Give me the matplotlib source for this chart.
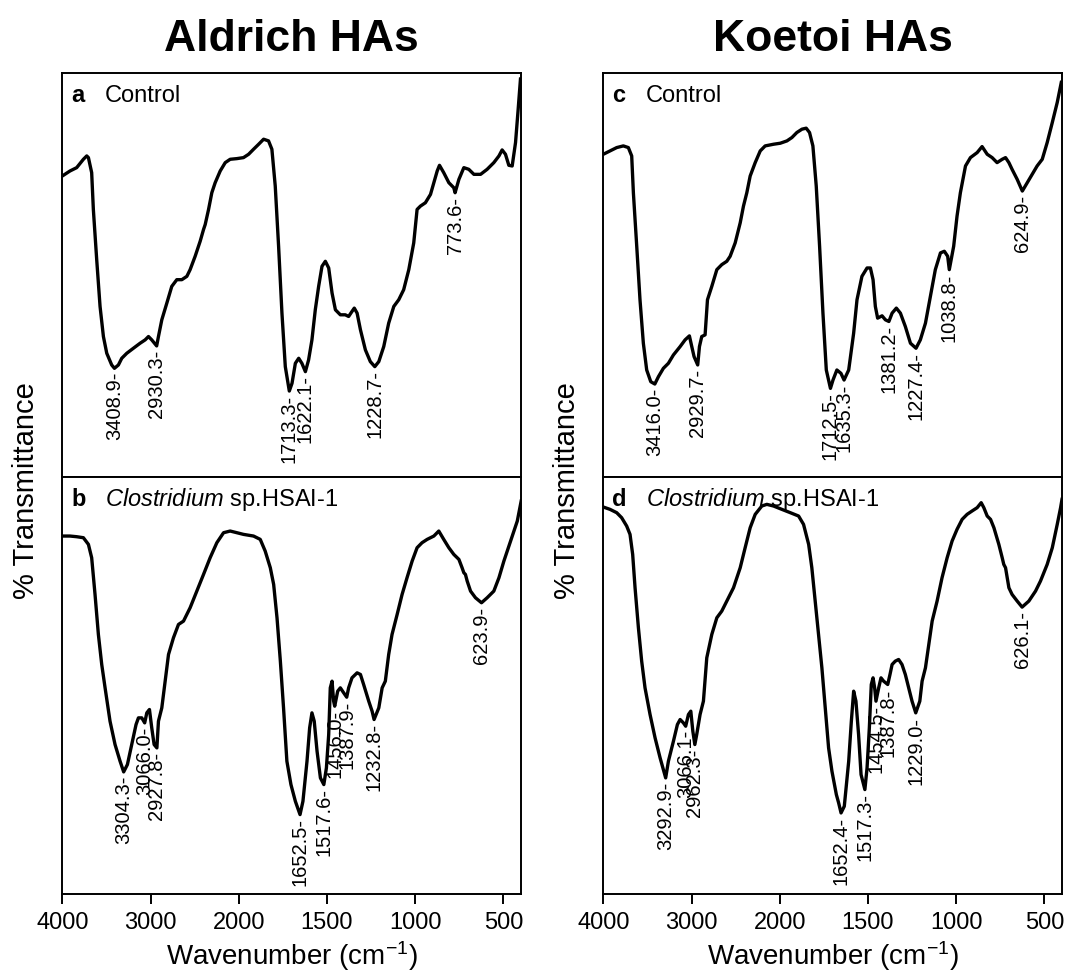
import numpy as np
import matplotlib
matplotlib.use("Agg")
import matplotlib.pyplot as plt


# ----------------------------------------
# 1. DATA
# ----------------------------------------
titles = ["Aldrich HAs", "Koetoi HAs"]
panel_letters = ["a", "b", "c", "d"]
panel_names = ["Control", r"$\mathit{Clostridium}$ sp.HSAI-1",
               "Control", r"$\mathit{Clostridium}$ sp.HSAI-1"]
xticks = [4000, 3000, 2000, 1500, 1000, 500]

# a: Aldrich control
wn_a = [4000, 3913, 3837, 3761, 3723, 3704, 3667, 3648, 3610, 3572, 3534, 3496, 3440,
        3408.9, 3364, 3326, 3269, 3194, 3118, 3061, 3023, 2986, 2930.3, 2910, 2872,
        2815, 2759, 2702, 2645, 2588, 2551, 2494, 2437, 2399, 2380, 2342, 2305, 2267,
        2210, 2153, 2097, 2021, 1973, 1944, 1916, 1887, 1859, 1831, 1812, 1793, 1774,
        1755, 1736, 1713.3, 1698, 1679, 1660, 1642, 1622.1, 1604, 1585, 1566, 1547,
        1528, 1509, 1490, 1471, 1452, 1424, 1396, 1377, 1358, 1345, 1329, 1310, 1282,
        1254, 1228.7, 1206, 1178, 1150, 1121, 1093, 1065, 1036, 1008, 989, 970, 942,
        913, 894, 875, 862, 838, 809, 781, 773.6, 752, 724, 696, 667, 629, 592, 554,
        525, 507, 488, 469, 450, 431, 416, 403]
t_a = [90.0, 91.5, 92.5, 95.0, 96.0, 95.5, 91.0, 80.0, 65.0, 51.0, 42.0, 37.0, 33.5,
       32.5, 33.5, 35.5, 37.0, 38.5, 40.0, 41.0, 42.0, 41.0, 39.2, 42.0, 47.0,
       52.0, 57.0, 59.0, 59.0, 60.0, 62.0, 66.0, 70.5, 74.0, 75.5, 80.0, 85.0, 88.0,
       91.5, 94.0, 95.0, 95.2, 95.5, 96.5, 98.0, 99.5, 101.0, 100.5, 98.0, 87.0, 69.0,
       49.0, 33.0, 25.7, 28.0, 34.0, 35.5, 34.0, 31.5, 35.0, 41.0, 50.0, 57.0,
       63.0, 64.5, 62.5, 55.0, 50.0, 48.5, 48.5, 48.0, 49.5, 50.5, 49.0, 44.0, 38.0,
       34.5, 33.0, 34.5, 39.0, 46.0, 51.0, 53.0, 56.0, 62.0, 70.0, 80.0, 81.0, 82.0,
       84.5, 88.0, 91.5, 93.2, 91.0, 88.0, 86.5, 85.0, 89.0, 92.5, 92.0, 90.5, 90.5,
       92.0, 94.0, 96.0, 97.8, 96.5, 93.2, 93.0, 100.0, 110.0, 119.0]
peaks_a = [3408.9, 2930.3, 1713.3, 1622.1, 1228.7, 773.6]

# b: Aldrich + Clostridium sp. HSAI-1
wn_b = [4000, 3913, 3837, 3761, 3704, 3667, 3629, 3591, 3553, 3515, 3459, 3402, 3345,
        3304.3, 3262, 3213, 3164, 3137, 3099, 3066.0, 3042, 3012, 2986, 2959, 2927.8,
        2910, 2872, 2834, 2796, 2740, 2683, 2626, 2551, 2475, 2399, 2324, 2248, 2172,
        2097, 2021, 1973, 1916, 1878, 1850, 1821, 1802, 1783, 1764, 1746, 1727, 1704,
        1679, 1652.5, 1636, 1613, 1598, 1585, 1572, 1556, 1537, 1517.6, 1503, 1490,
        1481, 1471, 1462, 1456.0, 1439, 1424, 1405, 1387.9, 1377, 1358, 1329, 1310,
        1292, 1263, 1244, 1232.8, 1206, 1187, 1169, 1150, 1131, 1102, 1074, 1046, 1017,
        989, 961, 932, 894, 866, 838, 809, 781, 752, 734, 724, 715, 705, 686, 658,
        623.9, 592, 554, 525, 497, 459, 421, 399]
t_b = [107.3, 107.3, 107.1, 106.8, 104.8, 100.8, 89.8, 77.8, 68.8, 61.8, 51.8, 44.8, 39.8,
       36.6, 38.8, 44.8, 50.8, 52.8, 52.8, 51.3, 54.3, 55.3, 49.8, 44.8, 43.8,
       51.8, 55.8, 63.8, 71.8, 76.8, 80.8, 81.8, 85.8, 90.8, 95.8, 100.8, 105.3, 108.3,
       108.8, 108.3, 107.8, 107.3, 106.3, 102.8, 97.8, 92.8, 82.8, 69.8, 55.8, 39.8, 32.8,
       27.8, 23.8, 27.8, 39.8, 49.8, 54.3, 51.8, 42.8, 34.8, 32.8, 37.8, 47.8,
       61.8, 63.8, 57.8, 56.3, 60.8, 61.8, 60.3, 59.0, 61.8, 64.8, 66.3, 65.8,
       62.8, 57.8, 54.8, 52.3, 55.8, 61.8, 63.8, 71.8, 77.8, 83.8, 89.8, 94.8, 99.8,
       103.8, 105.3, 106.3, 107.3, 108.8, 106.3, 103.8, 101.8, 100.3, 97.8, 96.3, 95.8,
       93.8, 90.8, 88.8, 87.3, 88.8, 90.8, 94.8, 99.8, 105.8, 111.8, 117.8]
peaks_b = [3304.3, 3066.0, 2927.8, 1652.5, 1517.6, 1456.0, 1387.9, 1232.8, 623.9]

# c: Koetoi control
wn_c = [4000, 3924, 3848, 3773, 3716, 3678, 3659, 3621, 3584, 3546, 3508, 3462, 3416.0,
        3375, 3319, 3262, 3205, 3129, 3073, 3024, 2997, 2971, 2929.7, 2910, 2884, 2846,
        2819, 2770, 2713, 2657, 2600, 2562, 2505, 2448, 2411, 2373, 2335, 2278, 2221,
        2165, 2070, 1997, 1959, 1931, 1903, 1874, 1850, 1831, 1812, 1793, 1774, 1755,
        1736, 1712.5, 1698, 1676, 1653, 1635.3, 1609, 1581, 1562, 1534, 1505, 1486,
        1471, 1458, 1445, 1420, 1401, 1381.2, 1363, 1339, 1316, 1288, 1259, 1227.4,
        1203, 1174, 1146, 1118, 1089, 1067, 1048, 1038.8, 1014, 995, 976, 947, 919,
        881, 853, 824, 796, 768, 739, 720, 701, 683, 654, 624.9, 597, 569, 541, 512,
        484, 455, 427, 404]
t_c = [96.5, 97.5, 98.5, 99.0, 98.5, 96.0, 85.0, 69.0, 53.0, 40.0, 32.0, 28.5, 27.8,
       30.0, 32.5, 34.0, 36.5, 39.0, 41.0, 42.2, 39.0, 36.0, 33.5, 39.0, 42.0, 42.5,
       53.0, 57.0, 62.0, 63.5, 64.5, 66.0, 70.0, 76.0, 81.0, 85.0, 90.0, 94.0, 97.5,
       99.0, 99.5, 99.8, 100.5, 101.5, 103.0, 104.0, 104.3, 103.0, 99.0, 87.0, 69.0, 49.0,
       32.0, 26.5, 29.0, 32.0, 31.0, 29.0, 32.0, 43.0, 53.0, 60.0, 62.5, 62.5,
       59.0, 51.0, 47.5, 48.2, 47.0, 46.5, 49.0, 50.5, 49.0, 45.0, 40.0, 38.5,
       41.0, 46.0, 54.0, 62.0, 67.0, 67.5, 66.0, 62.0, 69.0, 78.0, 85.0, 93.0, 95.5,
       97.0, 98.8, 96.5, 95.5, 94.0, 95.0, 95.5, 94.0, 92.0, 89.0, 85.5, 88.0, 90.5,
       93.0, 95.0, 100.0, 106.0, 112.0, 118.0]
peaks_c = [3416.0, 2929.7, 1712.5, 1635.3, 1381.2, 1227.4, 1038.8, 624.9]

# d: Koetoi + Clostridium sp. HSAI-1
wn_d = [4000, 3924, 3848, 3792, 3735, 3697, 3667, 3640, 3602, 3565, 3527, 3470, 3413,
        3356, 3292.9, 3262, 3205, 3160, 3129, 3092, 3066.1, 3035, 3008, 2985, 2962.3,
        2941, 2903, 2865, 2827, 2770, 2713, 2657, 2600, 2524, 2448, 2392, 2335, 2278,
        2203, 2146, 2070, 1988, 1940, 1893, 1865, 1836, 1818, 1799, 1780, 1761, 1742,
        1723, 1704, 1679, 1666, 1652.4, 1634, 1609, 1594, 1581, 1568, 1553, 1539,
        1517.3, 1505, 1492, 1481, 1471, 1462, 1454.5, 1439, 1426, 1411, 1387.8, 1375,
        1363, 1345, 1326, 1307, 1288, 1269, 1250, 1229.0, 1206, 1193, 1174, 1155, 1136,
        1108, 1080, 1051, 1023, 995, 966, 938, 910, 881, 858, 843, 824, 805, 786, 758,
        739, 730, 720, 701, 683, 654, 626.1, 588, 550, 522, 484, 455, 427, 408, 400]
t_d = [116.0, 115.3, 114.3, 112.8, 110.3, 107.8, 101.8, 91.8, 79.8, 69.8, 61.8, 53.8, 46.8,
       40.8, 34.8, 39.8, 45.8, 50.8, 52.3, 51.3, 50.3, 53.8, 54.8, 48.8, 44.8,
       47.8, 53.8, 57.8, 70.8, 77.8, 82.8, 84.8, 87.8, 91.8, 97.8, 103.8, 109.8, 113.8,
       116.3, 116.8, 116.3, 115.3, 114.3, 113.3, 110.8, 104.8, 97.8, 87.8, 77.8, 67.8, 55.8,
       43.8, 36.8, 29.8, 27.3, 24.3, 26.3, 39.8, 51.8, 60.8, 57.8, 47.8, 35.8,
       31.3, 37.8, 49.8, 62.8, 64.8, 61.8, 57.8, 61.8, 64.8, 63.8, 62.8, 65.8,
       68.8, 69.8, 70.3, 68.8, 65.8, 61.8, 57.8, 54.3, 57.8, 63.8, 67.8, 74.8, 81.8,
       87.8, 94.8, 100.8, 105.8, 109.3, 112.3, 113.8, 114.8, 115.8, 117.3, 115.8, 113.3,
       112.3, 109.8, 104.8, 100.8, 98.8, 97.8, 91.8, 89.8, 87.8, 86.0, 87.8, 90.8,
       93.8, 98.8, 103.8, 110.8, 115.8, 118.3]
peaks_d = [3292.9, 3066.1, 2962.3, 1652.4, 1517.3, 1454.5, 1387.8, 1229.0, 626.1]

spectra = [(wn_a, t_a, peaks_a), (wn_b, t_b, peaks_b),
           (wn_c, t_c, peaks_c), (wn_d, t_d, peaks_d)]
ylims = [(0, 120.8), (0, 125), (0, 120.8), (0, 125)]


# ----------------------------------------
# 2. X SCALE: compressed above 2000 cm-1
# ----------------------------------------
def fwd(x):
    x = np.asarray(x, dtype=float)
    return np.where(x > 2000, 2000 + (x - 2000) / 2.0, x)


def inv(t):
    t = np.asarray(t, dtype=float)
    return np.where(t > 2000, 2000 + (t - 2000) * 2.0, t)


# ----------------------------------------
# 3. FIGURE
# ----------------------------------------
def main():
    plt.rcParams["font.family"] = ["Liberation Sans", "DejaVu Sans"]
    plt.rcParams["mathtext.fontset"] = "custom"
    plt.rcParams["mathtext.rm"] = "Liberation Sans"
    plt.rcParams["mathtext.it"] = "Liberation Sans:italic"
    plt.rcParams["mathtext.bf"] = "Liberation Sans:bold"

    W, H = 1067, 978
    fig = plt.figure(figsize=(W / 100, H / 100), dpi=100)

    lefts = [62.3 / W, 603.3 / W]
    width = 458.7 / W
    top_box = (1 - 478 / H, 404 / H)
    bot_box = (1 - 895 / H, 417 / H)

    k = 0
    for col in range(2):
        ax_top = fig.add_axes([lefts[col], top_box[0], width, top_box[1]])
        ax_bot = fig.add_axes([lefts[col], bot_box[0], width, bot_box[1]], sharex=ax_top)
        for row, ax in enumerate([ax_top, ax_bot]):
            wn, tr, peaks = spectra[k]
            ax.set_xscale("function", functions=(fwd, inv))
            ax.plot(wn, tr, color="black", lw=2.4, solid_joinstyle="round")
            ax.set_xlim(4000, 400)
            ax.set_ylim(*ylims[k])
            ax.set_yticks([])
            for s in ax.spines.values():
                s.set_linewidth(1.4)

            # peak labels hanging under each band
            wn_r = np.array(wn)[::-1]
            tr_r = np.array(tr)[::-1]
            for p in peaks:
                yp = np.interp(p, wn_r, tr_r)
                ax.annotate(f"{p:.1f}-", xy=(p, yp), xytext=(0, -2),
                            textcoords="offset points", rotation=90,
                            ha="center", va="top", fontsize=14.5)

            ybase = 1 - 28 / (404 if row == 0 else 417)
            ax.text(0.02, ybase, panel_letters[k], transform=ax.transAxes,
                    fontsize=17, fontweight="bold", va="baseline")
            ax.text(0.093, ybase, panel_names[k], transform=ax.transAxes,
                    fontsize=17, va="baseline")
            k += 1

        ax_top.tick_params(axis="x", bottom=False, labelbottom=False)
        ax_bot.set_xticks(xticks)
        ax_bot.set_xticklabels([str(v) for v in xticks])
        ax_bot.xaxis.set_minor_locator(matplotlib.ticker.NullLocator())
        ax_bot.tick_params(axis="x", direction="out", length=7, width=1.4,
                           labelsize=17, pad=5)
        ax_bot.set_xlabel("Wavenumber (cm$^{\\mathregular{-1}}$)", fontsize=20, labelpad=4)

        cx = lefts[col] + width / 2
        fig.text(cx, 1 - 51 / H, titles[col], ha="center", va="baseline",
                 fontsize=32, fontweight="bold")
        fig.text(lefts[col] - 36 / W, 1 - 491 / H, "% Transmittance",
                 rotation=90, ha="center", va="center", fontsize=21)

    fig.savefig("out.png", dpi=100)


if __name__ == "__main__":
    main()
